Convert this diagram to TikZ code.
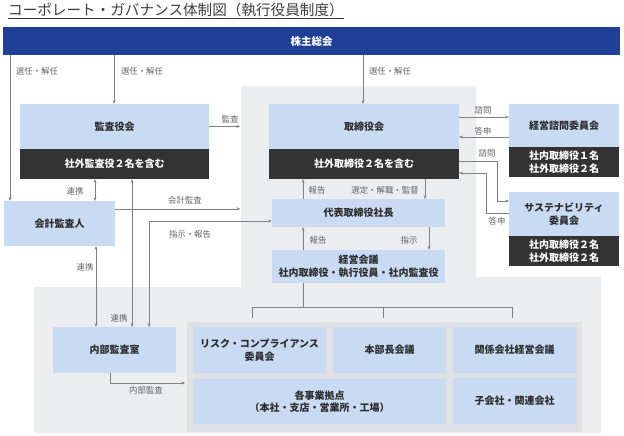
\documentclass[tikz,border=0pt]{standalone}
\usepackage{fontspec}
\setmainfont{Noto Sans CJK JP}
\usetikzlibrary{arrows.meta}
\definecolor{kblue}{RGB}{32,64,152}
\definecolor{lblue}{RGB}{201,218,243}
\definecolor{dbar}{RGB}{51,51,51}
\definecolor{bgray}{RGB}{236,237,239}
\definecolor{igray}{RGB}{222,225,229}
\definecolor{lcol}{RGB}{128,128,128}
\definecolor{labcol}{RGB}{100,100,100}
\definecolor{boxtxt}{RGB}{45,45,45}
\definecolor{titlecol}{RGB}{60,60,60}
\begin{document}
\begin{tikzpicture}[x=1pt,y=-1pt,
  lbox/.style={fill=lblue,text=boxtxt,font=\fontsize{10}{12.5}\selectfont\bfseries,inner sep=1pt,align=center},
  dbox/.style={fill=dbar,text=white,font=\fontsize{10}{12.5}\selectfont\bfseries,inner sep=1pt,align=center},
  conn/.style={draw=lcol,line width=0.6pt},
  arr/.style={conn,-{Stealth[length=3.6pt,width=3pt]}},
  darr/.style={conn,{Stealth[length=3.6pt,width=3pt]}-{Stealth[length=3.6pt,width=3pt]}},
  lab/.style={text=labcol,font=\fontsize{8.4}{9.5}\selectfont,inner sep=0pt}]
\useasboundingbox (0,0) rectangle (624,436);
% title
\node[anchor=base west,inner sep=0pt,text=titlecol,font=\fontsize{14.6}{16}\selectfont] (title) at (8,15.5) {コーポレート・ガバナンス体制図（執行役員制度）};
\draw[titlecol,line width=0.6pt] ([yshift=-2.8pt]title.base west) -- ([yshift=-2.8pt]title.base east);
% backgrounds
\fill[bgray] (241,86) -- (476,86) -- (476,277) -- (601,277) -- (601,433) -- (34,433) -- (34,287) -- (241,287) -- cycle;
\fill[igray] (187,322) rectangle (582,432);
% top bar
\node[fill=kblue,text=white,font=\fontsize{10.5}{12}\selectfont\bfseries,minimum width=617pt,minimum height=28pt,inner sep=0pt] (kabu) at (311.5,41) {株主総会};
% boxes
\node[lbox,minimum width=189pt,minimum height=45pt] (kansa) at (114.5,126.5) {監査役会};
\node[dbox,minimum width=189pt,minimum height=30pt] (kansab) at (114.5,164) {社外監査役２名を含む};
\node[lbox,minimum width=111pt,minimum height=45pt] (kaikei) at (59.5,223.5) {会計監査人};
\node[lbox,minimum width=190pt,minimum height=45pt] (tori) at (364,126.5) {取締役会};
\node[dbox,minimum width=190pt,minimum height=30pt] (torib) at (364,164) {社外取締役２名を含む};
\node[lbox,minimum width=110pt,minimum height=43pt] (shimon) at (564,125.5) {経営諮問委員会};
\node[dbox,minimum width=110pt,minimum height=30pt] (shimonb) at (564,162) {社内取締役１名\\社外取締役２名};
\node[lbox,minimum width=110pt,minimum height=44pt] (sus) at (564,214) {サステナビリティ\\委員会};
\node[dbox,minimum width=110pt,minimum height=30pt] (susb) at (564,251) {社内取締役２名\\社外取締役２名};
\node[lbox,minimum width=173pt,minimum height=28pt] (daihyo) at (358.5,213) {代表取締役社長};
\node[lbox,minimum width=173pt,minimum height=33pt] (keiei) at (358.5,266.5) {経営会議\\社内取締役・執行役員・社内監査役};
\node[lbox,minimum width=123pt,minimum height=46pt] (naibu) at (114.5,350) {内部監査室};
\node[lbox,minimum width=133pt,minimum height=46pt] (risk) at (259.5,350) {リスク・コンプライアンス\\委員会};
\node[lbox,minimum width=113pt,minimum height=46pt] (honbu) at (389.5,350) {本部長会議};
\node[lbox,minimum width=123pt,minimum height=46pt] (kankei) at (514.5,350) {関係会社経営会議};
\node[lbox,minimum width=253pt,minimum height=45pt] (kaku) at (319.5,401.5) {各事業拠点\\（本社・支店・営業所・工場）};
\node[lbox,minimum width=123pt,minimum height=46pt] (ko) at (514.5,401) {子会社・関連会社};
% connectors from kabu
\draw[arr] (10,0 |- kabu.south) -- (10,0 |- kaikei.north);
\draw[arr] (114,0 |- kabu.south) -- (114,0 |- kansa.north);
\draw[arr] (363,0 |- kabu.south) -- (363,0 |- tori.north);
\node[lab] (l1) at (37,71) {選任・解任};
\node[lab] (l2) at (142,71) {選任・解任};
\node[lab] (l3) at (390,71) {選任・解任};
% kansa
\draw[arr] (kansa.east) -- (240,0 |- kansa.east);
\node[lab] (l4) at (230,119) {監査};
\draw[darr] (95,0 |- kansab.south) -- (95,0 |- kaikei.north);
\node[lab] (l5) at (75,191) {連携};
\draw[arr] ([yshift=-8pt]kaikei.north east) -- ++(125,0);
\node[lab] (l6) at (185,200) {会計監査};
\draw[darr] (132,0 |- kansab.south) -- (132,0 |- naibu.north);
\node[lab] (l7) at (119,318) {連携};
\draw[darr] (149,0 |- naibu.north) |- ([yshift=-8pt]daihyo.west);
\node[lab] (l8) at (190,234) {指示・報告};
\draw[darr] (96,0 |- kaikei.south) -- (96,0 |- naibu.north);
\node[lab] (l9) at (85,267) {連携};
% tori / daihyo / keiei
\draw[arr] (303,0 |- daihyo.north) -- (303,0 |- torib.south);
\node[lab] (l10) at (317,190) {報告};
\draw[arr] (425,0 |- torib.south) -- (425,0 |- daihyo.north);
\node[lab] (l11) at (385,190) {選定・解職・監督};
\draw[arr] (303,0 |- keiei.north) -- (303,0 |- daihyo.south);
\node[lab] (l12) at (318,240) {報告};
\draw[arr] (429,0 |- daihyo.south) -- (429,0 |- keiei.north);
\node[lab] (l13) at (409,240) {指示};
% tree to bottom group
\draw[conn] (303,0 |- keiei.south) -- (303,307);
\draw[conn] (252,318) -- (252,307) -- (512,307) -- (512,318);
\draw[conn] (383,307) -- (383,318);
% shimon
\draw[arr] (tori.east |- 0,117) -- (shimon.west |- 0,117);
\node[lab] (l14) at (483,110) {諮問};
\draw[arr] (shimon.west |- 0,137) -- (tori.east |- 0,137);
\node[lab] (l15) at (483,131) {答申};
% sustainability
\draw[arr] (torib.east |- 0,161) -| (497,201) -- (sus.west |- 0,201);
\node[lab] (l16) at (487,153) {諮問};
\draw[arr] (sus.west |- 0,213) -| (486,173) -- (torib.east |- 0,173);
\node[lab] (l17) at (497,221) {答申};
% internal audit
\draw[arr] (110,0 |- naibu.south) |- (185,383);
\node[lab] (l18) at (146,390) {内部監査};
\end{tikzpicture}
\end{document}
